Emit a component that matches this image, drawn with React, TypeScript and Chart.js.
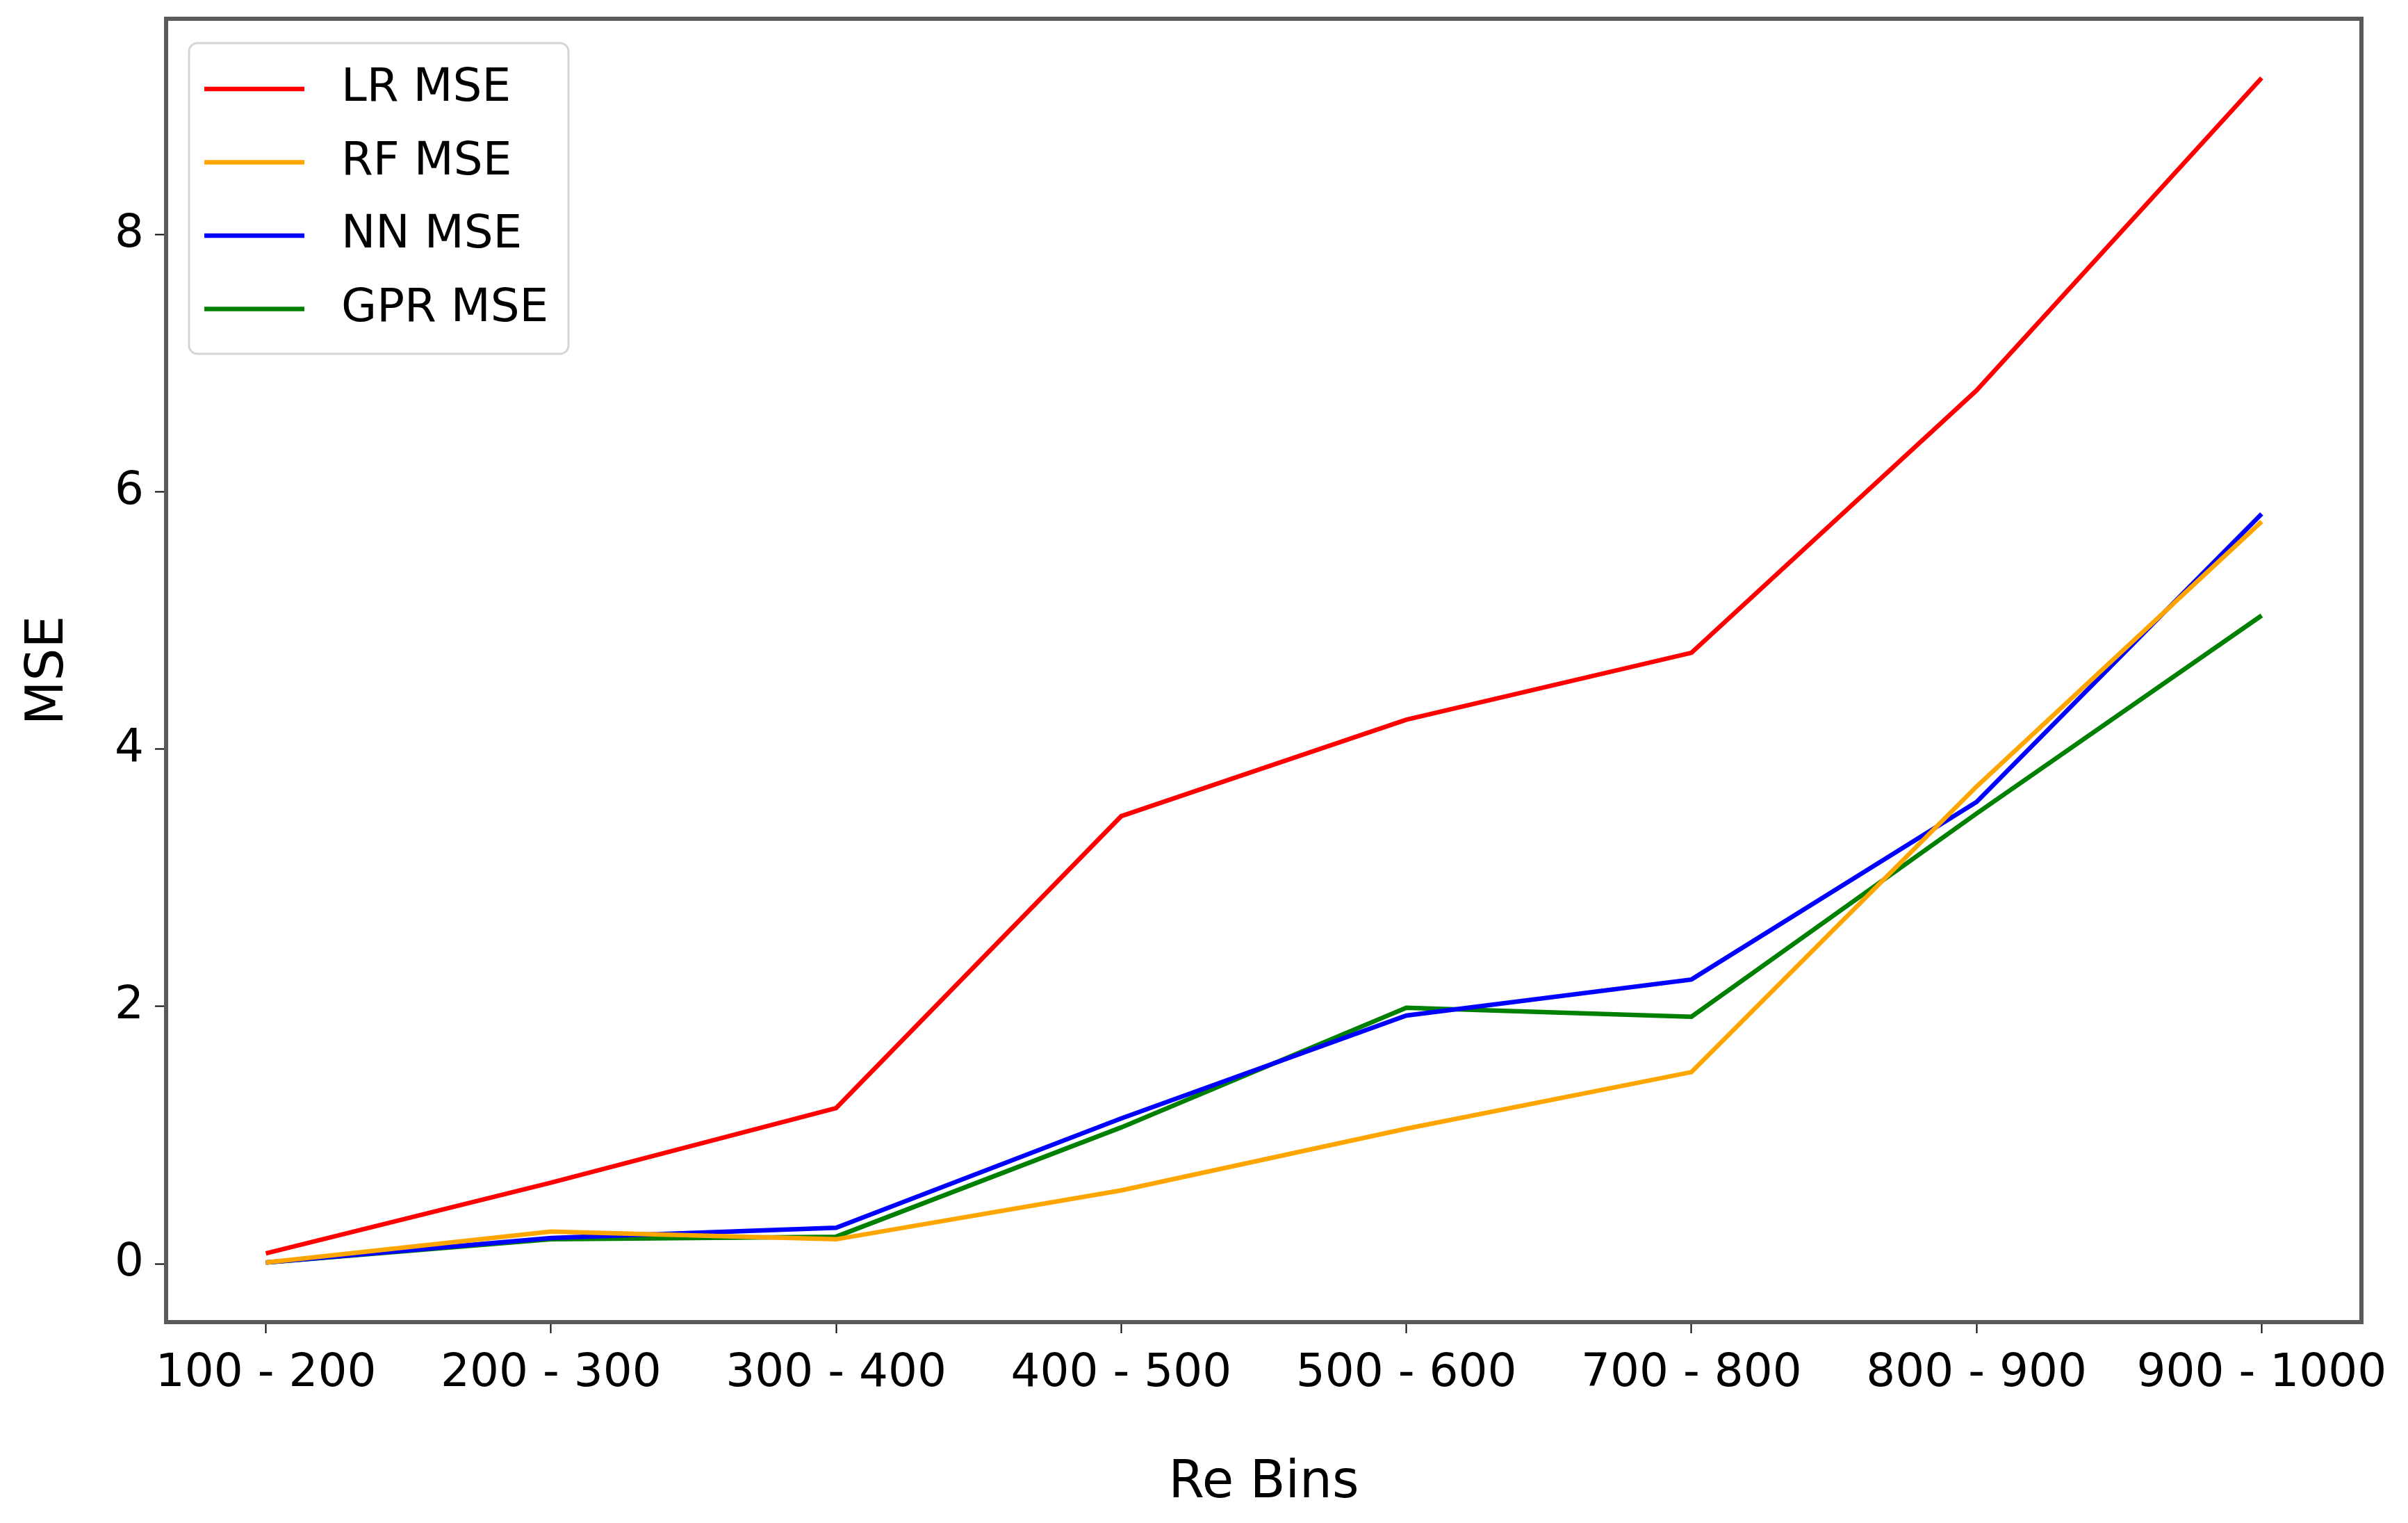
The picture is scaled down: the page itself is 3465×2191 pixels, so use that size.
import React, { useEffect, useRef } from "react";
import { Chart, registerables } from "chart.js";

Chart.register(...registerables);

const categories = ["100 - 200", "200 - 300", "300 - 400", "400 - 500", "500 - 600", "700 - 800", "800 - 900", "900 - 1000"];
const lrMse = [0.08, 0.63, 1.21, 3.48, 4.23, 4.75, 6.79, 9.22];
const rfMse = [0.01, 0.25, 0.19, 0.57, 1.05, 1.49, 3.71, 5.77];
const nnMse = [0.01, 0.2, 0.28, 1.13, 1.93, 2.21, 3.59, 5.83];
const gprMse = [0.01, 0.19, 0.21, 1.06, 1.99, 1.92, 3.5, 5.04];
const yTicks = [0, 2, 4, 6, 8];

const FONT = "'DejaVu Sans', sans-serif";

const framePlugin = {
  id: "frame",
  afterDatasetsDraw(chart: any) {
    const { ctx, chartArea: a } = chart;
    ctx.save();
    ctx.strokeStyle = "#5a5a5a";
    ctx.lineWidth = 6;
    ctx.strokeRect(a.left, a.top, a.right - a.left, a.bottom - a.top);
    ctx.restore();
  },
};

const legendPlugin = {
  id: "boxLegend",
  afterDraw(chart: any) {
    const { ctx, chartArea: a } = chart;
    const x = a.left + 33;
    const y = a.top + 35;
    const w = 546;
    const h = 447;
    ctx.save();
    ctx.beginPath();
    ctx.roundRect(x, y, w, h, 12);
    ctx.fillStyle = "rgba(255,255,255,0.8)";
    ctx.fill();
    ctx.lineWidth = 3;
    ctx.strokeStyle = "#d6d6d6";
    ctx.stroke();
    ctx.font = `66px ${FONT}`;
    ctx.textBaseline = "middle";
    chart.data.datasets.forEach((ds: any, i: number) => {
      const ly = y + 66 + i * 105.5;
      ctx.beginPath();
      ctx.moveTo(x + 22, ly);
      ctx.lineTo(x + 166, ly);
      ctx.strokeStyle = ds.borderColor;
      ctx.lineWidth = 6.5;
      ctx.stroke();
      ctx.fillStyle = "#000";
      ctx.fillText(ds.label, x + 219, ly);
    });
    ctx.restore();
  },
};

const toPoints = (vals: number[]) => vals.map((v, i) => ({ x: i, y: v }));

export default function App() {
  const canvasRef = useRef<HTMLCanvasElement | null>(null);

  useEffect(() => {
    if (!canvasRef.current) return;
    const mk = (label: string, vals: number[], color: string) => ({
      label,
      data: toPoints(vals),
      borderColor: color,
      backgroundColor: color,
      borderWidth: 6.5,
      pointRadius: 0,
      tension: 0,
      fill: false,
    });
    const chart = new Chart(canvasRef.current, {
      type: "line",
      data: {
        datasets: [
          mk("LR MSE", lrMse, "#ff0000"),
          mk("RF MSE", rfMse, "#ffa500"),
          mk("NN MSE", nnMse, "#0000ff"),
          mk("GPR MSE", gprMse, "#008000"),
        ],
      },
      options: {
        animation: false,
        responsive: true,
        maintainAspectRatio: false,
        devicePixelRatio: 1,
        layout: { padding: { top: 27, right: 67, left: 0, bottom: 0 } },
        plugins: { legend: { display: false }, tooltip: { enabled: false } },
        scales: {
          x: {
            type: "linear",
            min: -0.35,
            max: 7.35,
            afterBuildTicks: (s: any) => {
              s.ticks = categories.map((_, i) => ({ value: i }));
            },
            afterFit: (s: any) => {
              s.height = 289;
              s.paddingLeft = 0;
              s.paddingRight = 0;
            },
            ticks: {
              callback: (v: any) => categories[v] ?? "",
              font: { size: 66, family: FONT },
              color: "#000",
              maxRotation: 0,
              minRotation: 0,
              autoSkip: false,
              padding: 19,
            },
            grid: {
              drawOnChartArea: false,
              drawTicks: true,
              tickLength: 16,
              tickWidth: 2,
              tickColor: "#000",
            },
            border: { display: false },
            title: {
              display: true,
              text: "Re Bins",
              color: "#000",
              font: { size: 74, family: FONT },
              padding: { top: 0, bottom: 12 },
            },
          },
          y: {
            type: "linear",
            min: -0.454,
            max: 9.68,
            afterBuildTicks: (s: any) => {
              s.ticks = yTicks.map((v) => ({ value: v }));
            },
            afterFit: (s: any) => {
              s.width = 239;
              s.paddingTop = 0;
              s.paddingBottom = 0;
            },
            ticks: {
              callback: (v: any) => String(v),
              font: { size: 66, family: FONT },
              color: "#000",
              padding: 16,
            },
            grid: {
              drawOnChartArea: false,
              drawTicks: true,
              tickLength: 16,
              tickWidth: 2,
              tickColor: "#000",
            },
            border: { display: false },
            title: {
              display: true,
              text: "MSE",
              color: "#000",
              font: { size: 74, family: FONT },
              padding: { top: 26, bottom: 0 },
            },
          },
        },
      },
      plugins: [framePlugin, legendPlugin],
    });
    return () => chart.destroy();
  }, []);

  return (
    <div style={{ position: "fixed", left: 0, top: 0, width: 3465, height: 2191, background: "#fff" }}>
      <canvas ref={canvasRef} />
    </div>
  );
}
